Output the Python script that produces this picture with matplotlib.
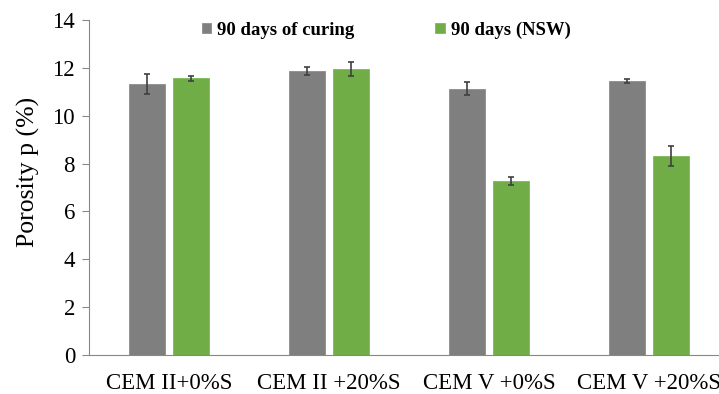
import numpy as np
import matplotlib

matplotlib.use("Agg")
import matplotlib.pyplot as plt

# Porosity data
categories = ["CEM II+0%S", "CEM II +20%S", "CEM V +0%S", "CEM V +20%S"]
curing_90 = [11.31, 11.88, 11.13, 11.44]
curing_90_err = [0.42, 0.16, 0.27, 0.09]
nsw_90 = [11.56, 11.96, 7.27, 8.33]
nsw_90_err = [0.12, 0.30, 0.17, 0.42]
series_names = ["90 days of curing", "90 days (NSW)"]

plt.rcParams["font.family"] = ["Liberation Serif", "DejaVu Serif"]

fig = plt.figure(figsize=(7.19, 3.94), dpi=100)
ax = fig.add_axes([89 / 719, 1 - 355 / 394, 640 / 719, 335 / 394])

x = np.arange(len(categories))
width = 0.225
offset = 0.14
err_style = dict(ecolor="#404040", elinewidth=1.2, capsize=2.5, capthick=1.2)

ax.bar(x - offset, curing_90, width, yerr=curing_90_err, color="#7f7f7f",
       edgecolor="#8c8c8c", linewidth=0.6, label=series_names[0], error_kw=err_style)
ax.bar(x + offset, nsw_90, width, yerr=nsw_90_err, color="#70ad47",
       edgecolor="#7cb956", linewidth=0.6, label=series_names[1], error_kw=err_style)

ax.set_xlim(-0.5, 3.5)
ax.set_ylim(0, 14)
ax.set_yticks(range(0, 15, 2))
ax.set_xticks(x)
ax.set_xticklabels(categories, fontsize=16.5)
ax.tick_params(axis="y", labelsize=16.5, direction="out", length=5, color="#888888", pad=5)
ax.tick_params(axis="x", length=0, pad=13)
for side in ["top", "right"]:
    ax.spines[side].set_visible(False)
for side in ["left", "bottom"]:
    ax.spines[side].set_color("#888888")

ax.set_ylabel("Porosity p (%)", fontsize=18.5)
ax.yaxis.set_label_coords(-0.077, 0.545)

ax.legend(loc="center left", bbox_to_anchor=(202 / 719, 1 - 30 / 394),
          bbox_transform=fig.transFigure, ncol=2, frameon=False,
          prop={"weight": "bold", "size": 13.5}, handlelength=0.5, handleheight=0.5,
          handletextpad=0.32, columnspacing=4.3, borderpad=0, borderaxespad=0)

plt.savefig("out.png", dpi=100)
